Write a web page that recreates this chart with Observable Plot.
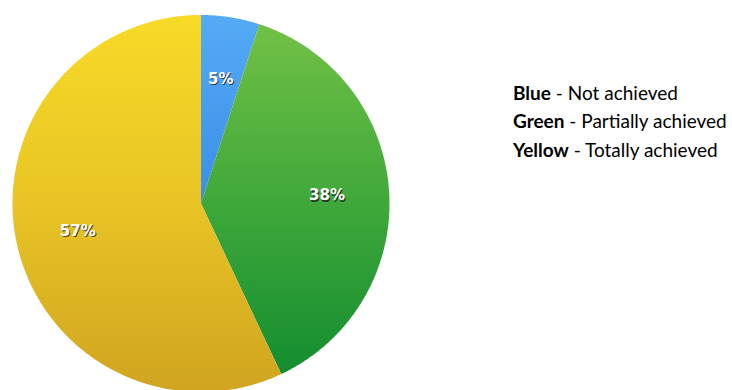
<!DOCTYPE html>
<html>
<head>
<meta charset="utf-8">
<script src="https://cdn.jsdelivr.net/npm/d3@7"></script>
<script src="https://cdn.jsdelivr.net/npm/@observablehq/plot@0.6"></script>
<style>
  html, body { margin: 0; padding: 0; background: #fff; }
  #wrap { position: relative; width: 732px; height: 390px; overflow: hidden; }
  #chart { position: absolute; left: 0; top: 0; }
  #legend { position: absolute; left: 513px; top: 79px; font-family: Lato, "Open Sans", sans-serif; font-size: 19px; color: #000; line-height: 28.3px; white-space: nowrap; }
  #legend b { font-weight: 700; }
</style>
</head>
<body>
<div id="wrap">
  <div id="chart"></div>
  <div id="legend"></div>
</div>
<script>
// Data
const categories = ["Blue", "Green", "Yellow"];
const descriptions = ["Not achieved", "Partially achieved", "Totally achieved"];
const values = [5, 38, 57];
const labels = ["5%", "38%", "57%"];
const gradientIds = ["gBlue", "gGreen", "gYellow"];

// Build slices from data with d3.pie (clockwise from 12 o'clock)
const pie = d3.pie().sort(null).value(d => d)(values);
const pts = [];
pie.forEach((s, i) => {
  pts.push({k: i, x: 0, y: 0});
  const n = Math.max(4, Math.ceil((s.endAngle - s.startAngle) / (Math.PI / 360)));
  for (let j = 0; j <= n; j++) {
    const a = s.startAngle + (s.endAngle - s.startAngle) * j / n;
    pts.push({k: i, x: Math.sin(a), y: -Math.cos(a)});
  }
  pts.push({k: i, x: 0, y: 0});
});
const labelPts = pie.map((s, i) => {
  const a = (s.startAngle + s.endAngle) / 2;
  return {label: labels[i], x: 0.67 * Math.sin(a), y: -0.67 * Math.cos(a)};
});

const R = 188.5, cx = 200.5, cy = 203, W = 400, H = 390;
const textStyle = {x: "x", y: "y", text: "label", fontSize: 15, fontWeight: "bold", fontFamily: "DejaVu Sans"};
const svg = Plot.plot({
  width: W,
  height: H,
  margin: 0,
  x: {domain: [-cx / R, (W - cx) / R], range: [0, W], axis: null},
  y: {domain: [-cy / R, (H - cy) / R], range: [0, H], axis: null},
  color: {type: "identity"},
  marks: [
    Plot.line(pts, {x: "x", y: "y", z: "k", fill: d => "url(#" + gradientIds[d.k] + ")", stroke: "none", curve: "linear"}),
    Plot.text(labelPts, {...textStyle, dx: 1, dy: 1.3, fill: "#222222", fillOpacity: 0.8}),
    Plot.text(labelPts, {...textStyle, fill: "#ffffff"})
  ]
});

// Gradients
const defs = d3.select(svg).insert("defs", ":first-child");
const stops = {
  gBlue: [["0%", "#55aaf5"], ["50%", "#3a8ee8"], ["100%", "#2a78d8"]],
  gGreen: [["0%", "#74c246"], ["50%", "#3fa83a"], ["100%", "#0f8a2e"]],
  gYellow: [["0%", "#f8da27"], ["50%", "#e8c425"], ["100%", "#d0a420"]]
};
for (const id of gradientIds) {
  const g = defs.append("linearGradient").attr("id", id)
    .attr("gradientUnits", "userSpaceOnUse")
    .attr("x1", 0).attr("y1", cy - R).attr("x2", 0).attr("y2", cy + R);
  for (const [o, c] of stops[id]) g.append("stop").attr("offset", o).attr("stop-color", c);
}
document.getElementById("chart").appendChild(svg);

// Legend
document.getElementById("legend").innerHTML = categories
  .map((c, i) => `<div><b>${c}</b> - ${descriptions[i]}</div>`).join("");
</script>
</body>
</html>
